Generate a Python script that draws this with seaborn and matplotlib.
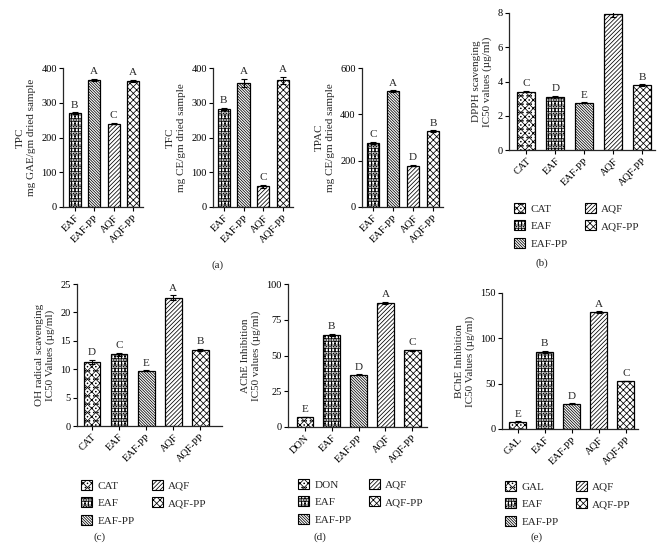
import matplotlib
matplotlib.use("Agg")
import matplotlib.pyplot as plt
from matplotlib.patches import Patch
import seaborn as sns

# ---- data ----
frac_cats = ['EAF', 'EAF-PP', 'AQF', 'AQF-PP']

tpc_vals = [270, 365, 240, 363]
tpc_errs = [2, 3, 2, 3]
tpc_letters = ['B', 'A', 'C', 'A']

tfc_vals = [282, 357, 60, 365]
tfc_errs = [4, 12, 4, 10]
tfc_letters = ['B', 'A', 'C', 'A']

tpac_vals = [278, 500, 178, 328]
tpac_errs = [4, 3, 3, 3]
tpac_letters = ['C', 'A', 'D', 'B']

dpph_cats = ['CAT', 'EAF', 'EAF-PP', 'AQF', 'AQF-PP']
dpph_vals = [3.4, 3.12, 2.75, 7.95, 3.78]
dpph_errs = [0.03, 0.03, 0.03, 0.2, 0.05]
dpph_letters = ['C', 'D', 'E', 'A', 'B']

oh_cats = ['CAT', 'EAF', 'EAF-PP', 'AQF', 'AQF-PP']
oh_vals = [11.3, 12.6, 9.7, 22.6, 13.4]
oh_errs = [0.4, 0.3, 0.1, 0.4, 0.2]
oh_letters = ['D', 'C', 'E', 'A', 'B']

ache_cats = ['DON', 'EAF', 'EAF-PP', 'AQF', 'AQF-PP']
ache_vals = [7, 64.5, 36.5, 87, 53.5]
ache_errs = [0.3, 0.6, 0.3, 0.7, 0.3]
ache_letters = ['E', 'B', 'D', 'A', 'C']

bche_cats = ['GAL', 'EAF', 'EAF-PP', 'AQF', 'AQF-PP']
bche_vals = [8, 85, 28, 129, 53]
bche_errs = [0.3, 0.8, 0.3, 0.8, 0.3]
bche_letters = ['E', 'B', 'D', 'A', 'C']

hatches = {'CAT': 'xxxx....', 'DON': 'xxxx....', 'GAL': 'xxxx....',
           'EAF': '+++++.....', 'EAF-PP': '\\' * 12,
           'AQF': '/' * 8, 'AQF-PP': 'xxxxx'}

sns.set_style('ticks')
plt.rcParams['font.family'] = ['Liberation Serif', 'DejaVu Serif']
plt.rcParams['hatch.linewidth'] = 0.55
plt.rcParams['axes.linewidth'] = 0.9

W, H = 657, 546
fig = plt.figure(figsize=(W / 100, H / 100), dpi=100)


def px_axes(x0, x1, y0, y1):
    return fig.add_axes([x0 / W, 1 - y1 / H, (x1 - x0) / W, (y1 - y0) / H])


def draw_panel(ax, cats, vals, errs, letters, ylabel, yticks, xlim):
    sns.barplot(x=cats, y=vals, hue=cats, palette=['white'] * len(cats),
                edgecolor='black', linewidth=0.9, width=0.62, legend=False,
                errorbar=None, ax=ax)
    for cont, cat in zip(ax.containers, cats):
        for bar in cont:
            bar.set_hatch(hatches[cat])
    ax.errorbar(range(len(cats)), vals, yerr=errs, fmt='none', ecolor='black',
                elinewidth=0.8, capsize=2, capthick=0.8)
    for i, (v, e, l) in enumerate(zip(vals, errs, letters)):
        ax.annotate(l, (i, v + e), xytext=(0, 2), textcoords='offset points',
                    ha='center', va='bottom', fontsize=8)
    ax.set_ylim(yticks[0], yticks[-1])
    ax.set_yticks(yticks)
    ax.set_xlim(*xlim)
    ax.set_ylabel(ylabel, fontsize=8, labelpad=4)
    ax.tick_params(axis='both', labelsize=7.5, length=3, width=0.8, colors='black', pad=1.5)
    ax.set_xticks(range(len(cats)))
    ax.set_xticklabels(cats, rotation=45, ha='right', rotation_mode='anchor')
    sns.despine(ax=ax)


def add_legend(ax, cats, x, y):
    handles = [Patch(facecolor='white', edgecolor='black', hatch=hatches[c],
                     linewidth=0.8) for c in cats]
    ax.legend(handles, cats, loc='upper left', bbox_to_anchor=(x / W, 1 - y / H),
              bbox_transform=fig.transFigure, ncol=2, frameon=False, fontsize=8,
              handlelength=1.0, handleheight=1.0, handletextpad=0.5,
              columnspacing=1.5, labelspacing=0.6, borderpad=0, borderaxespad=0)


ax1 = px_axes(63, 143, 68, 207)
draw_panel(ax1, frac_cats, tpc_vals, tpc_errs, tpc_letters,
           'TPC\nmg GAE/gm dried sample', [0, 100, 200, 300, 400], (-0.6, 3.5))

ax2 = px_axes(213, 293, 68, 207)
draw_panel(ax2, frac_cats, tfc_vals, tfc_errs, tfc_letters,
           'TFC\nmg CE/gm dried sample', [0, 100, 200, 300, 400], (-0.55, 3.5))

ax3 = px_axes(362, 443, 68, 207)
draw_panel(ax3, frac_cats, tpac_vals, tpac_errs, tpac_letters,
           'TPAC\nmg CE/gm dried sample', [0, 200, 400, 600], (-0.55, 3.5))

ax4 = px_axes(509, 655, 13, 150)
draw_panel(ax4, dpph_cats, dpph_vals, dpph_errs, dpph_letters,
           'DPPH scavenging\nIC50 values (µg/ml)', [0, 2, 4, 6, 8], (-0.6, 4.45))
add_legend(ax4, dpph_cats, 514, 203)

ax5 = px_axes(77, 222, 284, 426)
draw_panel(ax5, oh_cats, oh_vals, oh_errs, oh_letters,
           'OH radical scavenging\nIC50 Values (µg/ml)', [0, 5, 10, 15, 20, 25], (-0.55, 4.8))
add_legend(ax5, oh_cats, 81, 480)

ax6 = px_axes(288, 427, 284, 427)
draw_panel(ax6, ache_cats, ache_vals, ache_errs, ache_letters,
           'AChE Inhibition\nIC50 values (µg/ml)', [0, 25, 50, 75, 100], (-0.63, 4.55))
add_legend(ax6, ache_cats, 298, 479)

ax7 = px_axes(502, 638, 293, 429)
draw_panel(ax7, bche_cats, bche_vals, bche_errs, bche_letters,
           'BChE Inhibition\nIC50 Values (µg/ml)', [0, 50, 100, 150], (-0.58, 4.45))
add_legend(ax7, bche_cats, 505, 481)

for lab, x, y in [('(a)', 218, 265), ('(b)', 542, 263), ('(c)', 100, 537),
                  ('(d)', 320, 537), ('(e)', 537, 537)]:
    fig.text(x / W, 1 - y / H, lab, ha='center', va='center', fontsize=8)

fig.savefig('out.png', dpi=100)
